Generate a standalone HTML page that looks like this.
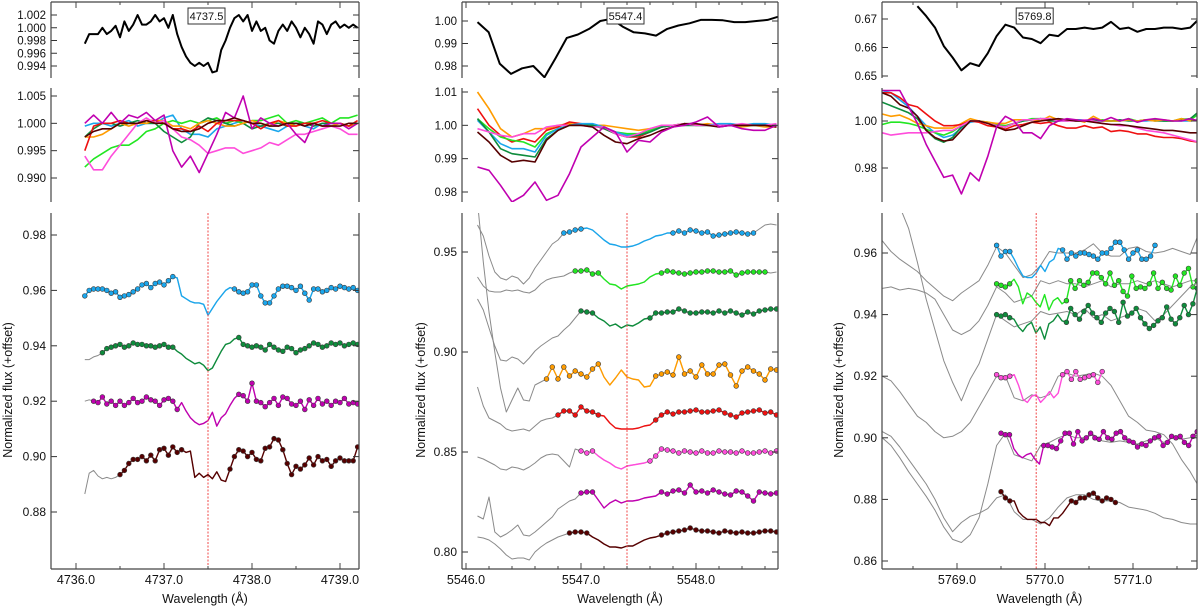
<!DOCTYPE html>
<html><head><meta charset="utf-8"><style>
html,body{margin:0;padding:0;background:#fff;}
svg{display:block;font-family:"Liberation Sans",sans-serif;}
</style></head><body>
<svg id="chart" width="1200" height="607" viewBox="0 0 1200 607" xmlns="http://www.w3.org/2000/svg"></svg>
<script>
// ---------- DATA ----------
const p1TopFlux=[0.9975,0.999,0.999,0.999,1.000,0.999,0.9995,1.0003,0.9985,1.001,0.9995,1.0005,1.002,1.0005,1.0005,1.001,1.002,1.001,1.0015,1.000,1.002,0.999,0.997,0.9955,0.9945,0.994,0.9945,0.994,0.9945,0.993,0.9932,0.9965,0.998,1.000,1.0015,1.002,1.001,1.002,0.9995,1.001,0.9995,1.000,0.998,0.9975,0.9995,1.0005,0.9995,1.001,1.000,0.9985,1.000,0.999,0.9975,1.001,1.0005,0.999,1.0005,1.001,1.000,1.0005,1.000,1.0005,1.000];
const p1MidBlue=[0.9995,1.000,1.000,0.9995,1.000,1.0005,0.9995,1.000,1.000,1.001,1.0015,0.999,0.998,0.998,0.9975,0.999,0.9995,1.000,1.0005,1.000,0.9995,0.999,0.9985,0.9995,1.000,0.9995,0.999,1.000,0.9995,1.000,0.9995,1.000];
const p1MidGreen=[0.992,0.9935,0.9945,0.9955,0.996,0.996,0.997,0.9985,0.999,1.000,1.0005,1.000,1.0005,1.000,1.0005,1.001,1.000,1.0005,1.000,1.0005,1.0005,1.001,1.0015,1.000,1.0005,1.000,1.0005,1.001,1.000,1.001,1.001,1.0015];
const p1MidDkGreen=[0.9975,0.999,1.000,1.000,0.9995,1.000,1.0005,1.000,1.000,0.9985,0.9975,0.9965,0.9975,1.000,1.001,1.0005,1.000,0.9995,1.000,0.999,0.9995,1.000,1.000,0.9995,1.000,1.000,0.9995,1.000,1.000,1.000,0.9995,1.000];
const p1MidOrange=[0.9975,0.9975,0.998,0.999,1.000,0.9995,1.000,1.000,1.0005,1.0005,0.9995,0.9995,0.999,1.000,1.0005,1.000,0.9995,0.9995,1.000,1.0005,1.000,0.9995,1.0005,1.000,0.9995,1.000,1.000,0.9995,0.9995,1.000,0.9995,1.000];
const p1MidRed=[0.995,0.9995,1.000,1.000,1.0005,1.000,1.000,1.0005,1.0005,1.000,0.999,0.999,0.9985,0.9995,0.9985,1.000,1.0005,1.0005,1.0005,1.000,0.999,1.000,1.0005,0.9995,0.9995,1.000,1.000,1.0005,1.000,1.000,0.9995,1.0005];
const p1MidPink=[0.994,0.9915,0.9915,0.994,0.996,0.998,1.000,1.001,1.000,1.0005,0.999,0.9975,0.997,0.996,0.9945,0.995,0.9955,0.9955,0.9945,0.995,0.9955,0.9965,0.996,0.997,0.998,0.998,0.9985,0.999,0.9995,0.999,0.998,0.998];
const p1MidMagenta=[1.000,1.0015,1.000,1.002,1.000,1.0015,1.001,1.002,1.0005,1.0015,0.995,0.992,0.994,0.991,0.9945,0.998,1.002,1.001,1.005,0.999,1.001,1.000,0.9995,1.000,0.998,0.9965,1.000,0.9995,1.000,1.000,0.999,1.000];
const p1MidMaroon=[0.9975,0.9985,0.999,0.999,1.000,1.000,1.000,1.0005,1.000,1.000,0.999,0.9985,0.9985,0.999,1.000,1.0005,1.0005,1.001,1.0005,1.000,1.000,0.9995,0.9995,1.000,1.000,0.9995,1.000,0.9995,0.9995,0.9995,1.000,1.000];
const p1LowBlue=[0.958,0.960,0.9605,0.9605,0.9605,0.960,0.959,0.9595,0.9575,0.958,0.9585,0.9595,0.9605,0.962,0.9625,0.961,0.9625,0.963,0.962,0.9635,0.965,0.9645,0.958,0.957,0.956,0.9555,0.9555,0.955,0.951,0.9535,0.956,0.958,0.960,0.961,0.9605,0.9595,0.959,0.9595,0.962,0.962,0.958,0.9555,0.9555,0.958,0.9605,0.9615,0.9615,0.961,0.960,0.9615,0.959,0.9565,0.9605,0.9605,0.9595,0.960,0.961,0.9605,0.9615,0.961,0.9605,0.961,0.960];
const p1LowDkGreen=[0.935,0.935,0.936,0.9365,0.9375,0.939,0.9395,0.940,0.9405,0.9395,0.940,0.941,0.9405,0.9405,0.940,0.940,0.9395,0.940,0.9405,0.9395,0.9395,0.938,0.937,0.9355,0.9345,0.9335,0.934,0.933,0.931,0.932,0.935,0.938,0.9405,0.941,0.9425,0.943,0.9405,0.940,0.9395,0.940,0.9395,0.9385,0.9405,0.9395,0.9385,0.938,0.9395,0.939,0.9375,0.9385,0.939,0.940,0.941,0.9405,0.9395,0.940,0.941,0.9405,0.941,0.940,0.9405,0.941,0.9405];
const p1LowMagenta=[0.920,0.9205,0.920,0.9195,0.9215,0.919,0.920,0.9185,0.920,0.9185,0.9195,0.921,0.9195,0.920,0.9215,0.9205,0.920,0.9185,0.9205,0.921,0.920,0.917,0.9195,0.9165,0.914,0.9125,0.9115,0.912,0.913,0.916,0.911,0.914,0.9155,0.9185,0.921,0.9225,0.922,0.920,0.9265,0.920,0.9195,0.918,0.9195,0.921,0.9185,0.9215,0.921,0.919,0.9185,0.920,0.917,0.9205,0.9185,0.921,0.919,0.920,0.9185,0.920,0.9195,0.921,0.919,0.9195,0.919];
const p1LowMaroon=[0.8865,0.894,0.895,0.893,0.892,0.8925,0.892,0.8925,0.8935,0.895,0.8975,0.899,0.899,0.900,0.8985,0.9005,0.8985,0.9025,0.903,0.9005,0.9035,0.9015,0.9025,0.9015,0.902,0.8925,0.894,0.8925,0.8935,0.892,0.8945,0.8915,0.891,0.8955,0.900,0.9025,0.902,0.900,0.9015,0.899,0.8985,0.903,0.9035,0.9065,0.906,0.9025,0.8975,0.8935,0.8965,0.8955,0.897,0.8995,0.897,0.900,0.8985,0.899,0.8965,0.8985,0.8995,0.8985,0.8985,0.8985,0.9035];

const p2TopFlux=[0.9995,0.995,0.981,0.9765,0.979,0.980,0.975,0.9835,0.9925,0.994,0.9965,1.000,1.001,0.9975,0.995,0.9945,0.9935,0.9965,0.998,0.999,1.0005,1.0005,1.0003,0.9995,0.9995,1.000,1.0005,1.002];
const p2MidOrange=[1.010,1.005,0.999,0.9965,0.9975,0.999,0.999,1.000,1.0005,1.000,1.000,1.000,0.9995,0.999,0.9985,0.999,0.9995,1.000,1.000,1.000,1.0005,1.000,1.000,0.9995,1.000,0.9995,0.9995];
const p2MidRed=[1.005,1.000,0.997,0.995,0.996,0.995,0.9985,0.9995,1.001,1.0005,1.000,0.999,0.9975,0.9965,0.9965,0.998,0.9995,1.000,1.0005,1.000,1.000,1.000,1.000,1.000,1.000,1.000,0.9995];
const p2MidGreen=[1.002,0.999,0.9965,0.9955,0.995,0.9935,0.9975,0.999,1.000,1.000,1.000,0.9995,0.998,0.9975,0.9975,0.9985,0.9995,1.000,1.0005,1.000,1.000,1.000,1.000,1.000,1.000,1.000,1.000];
const p2MidBlue=[1.0015,0.998,0.9945,0.993,0.993,0.992,0.997,0.999,1.000,1.0005,1.0005,0.9995,0.998,0.997,0.997,0.998,0.9995,1.000,1.000,1.000,1.000,1.0005,1.0005,1.000,1.0005,1.0005,1.000];
const p2MidDkGreen=[1.002,0.998,0.993,0.9915,0.991,0.9905,0.996,0.9985,1.000,1.000,1.000,0.999,0.9975,0.9965,0.997,0.998,0.9995,1.000,1.000,1.000,1.000,1.000,1.000,1.000,1.000,1.000,1.000];
const p2MidPink=[0.999,0.998,0.997,0.9965,0.9975,0.9975,0.9995,1.000,1.000,1.000,0.9995,0.9995,0.9975,0.9965,0.9975,0.999,1.000,1.000,1.0005,1.000,1.000,1.000,1.000,1.0005,1.000,1.000,1.0005];
const p2MidMaroon=[0.998,0.995,0.991,0.989,0.9895,0.989,0.9955,0.9985,1.000,1.000,0.9995,0.997,0.995,0.9945,0.996,0.997,0.9985,0.9995,1.0005,1.0005,1.000,0.9995,1.000,1.000,1.000,1.000,0.9995];
const p2MidMagenta=[0.9875,0.9865,0.982,0.977,0.979,0.983,0.9775,0.979,0.9855,0.9935,0.9965,0.9995,0.998,0.992,0.9955,0.995,0.998,0.9995,1.000,1.001,1.0025,0.9995,1.000,0.999,0.9985,0.9985,1.000];
const p2LowBlue=[0.9635,0.958,0.948,0.940,0.937,0.936,0.938,0.937,0.934,0.937,0.942,0.946,0.950,0.954,0.956,0.9595,0.960,0.961,0.9615,0.962,0.961,0.9585,0.956,0.954,0.9535,0.9525,0.9525,0.953,0.954,0.9555,0.9565,0.958,0.9585,0.9595,0.9595,0.9605,0.9595,0.961,0.9605,0.9595,0.960,0.958,0.9585,0.959,0.9595,0.960,0.9595,0.959,0.9595,0.9615,0.9635,0.964,0.9635];
const p2LowGreen=[0.9375,0.933,0.9305,0.930,0.930,0.931,0.9305,0.931,0.930,0.9295,0.931,0.934,0.936,0.937,0.9375,0.938,0.9395,0.9405,0.9405,0.941,0.939,0.9395,0.9365,0.934,0.9335,0.9315,0.933,0.9335,0.934,0.935,0.9375,0.939,0.9395,0.9405,0.940,0.9395,0.939,0.9395,0.940,0.940,0.9405,0.9405,0.940,0.940,0.9405,0.9385,0.9395,0.940,0.940,0.940,0.940,0.9395,0.940];
const p2LowDkGreen=[0.9265,0.921,0.912,0.903,0.896,0.8955,0.8975,0.8965,0.894,0.897,0.9005,0.903,0.905,0.907,0.908,0.911,0.9135,0.917,0.9205,0.920,0.9195,0.917,0.9155,0.913,0.914,0.912,0.9135,0.913,0.9145,0.9165,0.917,0.9195,0.9195,0.920,0.920,0.9215,0.9205,0.9195,0.9195,0.920,0.920,0.9195,0.9205,0.9195,0.9205,0.9195,0.9185,0.920,0.919,0.9205,0.921,0.9215,0.9215];
const p2LowOrange=[0.975,0.945,0.920,0.900,0.882,0.870,0.876,0.882,0.876,0.8755,0.8835,0.885,0.8865,0.8925,0.8865,0.8925,0.888,0.8905,0.889,0.8875,0.8915,0.894,0.8875,0.8835,0.887,0.891,0.8875,0.8865,0.886,0.8825,0.883,0.888,0.889,0.890,0.8885,0.8975,0.889,0.8905,0.8875,0.8935,0.889,0.889,0.8935,0.894,0.8885,0.883,0.8905,0.8925,0.8905,0.889,0.886,0.8915,0.891];
const p2LowRed=[0.8825,0.873,0.867,0.8655,0.864,0.8615,0.8605,0.861,0.8615,0.8605,0.863,0.8655,0.8665,0.867,0.8685,0.8705,0.8705,0.8685,0.8725,0.8705,0.870,0.8685,0.868,0.8645,0.862,0.8615,0.8615,0.8615,0.862,0.863,0.8635,0.866,0.8685,0.870,0.869,0.870,0.870,0.8705,0.871,0.870,0.870,0.8705,0.871,0.8695,0.8685,0.8675,0.8695,0.870,0.8705,0.871,0.8695,0.870,0.8685];
const p2LowPink=[0.8475,0.8465,0.845,0.8435,0.8415,0.841,0.8425,0.842,0.841,0.8425,0.8445,0.847,0.8485,0.849,0.8485,0.8455,0.8425,0.8515,0.8505,0.8495,0.8505,0.848,0.846,0.8445,0.8425,0.8415,0.843,0.8435,0.844,0.8445,0.8455,0.848,0.8515,0.851,0.8505,0.8495,0.8505,0.850,0.8495,0.8505,0.8495,0.8495,0.8505,0.850,0.850,0.8495,0.8505,0.8495,0.8495,0.850,0.8505,0.8495,0.8505];
const p2LowMagenta=[0.818,0.8165,0.8275,0.810,0.8075,0.809,0.811,0.8135,0.8085,0.808,0.810,0.8125,0.815,0.8175,0.8215,0.8235,0.8255,0.8265,0.8295,0.830,0.830,0.826,0.822,0.8245,0.826,0.8245,0.8255,0.8255,0.826,0.827,0.8275,0.828,0.830,0.829,0.8305,0.831,0.8295,0.8335,0.830,0.8305,0.8295,0.831,0.830,0.829,0.8285,0.8305,0.830,0.828,0.8255,0.830,0.8295,0.829,0.8295];
const p2LowMaroon=[0.8075,0.807,0.806,0.804,0.8015,0.7985,0.7965,0.797,0.797,0.796,0.800,0.8025,0.8045,0.806,0.8075,0.8085,0.8095,0.810,0.810,0.8095,0.8075,0.806,0.804,0.8025,0.8025,0.802,0.803,0.803,0.8045,0.806,0.807,0.8075,0.8085,0.8095,0.810,0.8105,0.811,0.812,0.811,0.8105,0.8105,0.810,0.8095,0.8105,0.810,0.8095,0.810,0.8095,0.8095,0.810,0.8105,0.8105,0.810];

const p3TopFlux=[0.6745,0.671,0.667,0.6605,0.6565,0.652,0.6545,0.6535,0.658,0.664,0.668,0.667,0.6635,0.663,0.6615,0.6645,0.664,0.6665,0.6665,0.667,0.6665,0.667,0.669,0.6665,0.667,0.6655,0.6665,0.6665,0.667,0.667,0.6665,0.667,0.670];
const p3MidBlue=[1.013,1.012,1.009,1.006,1.002,0.998,0.995,0.993,0.994,0.997,0.9995,1.000,0.999,0.998,0.9975,0.999,1.000,1.0005,1.001,1.001,1.000,1.000,1.0005,1.0005,1.000,1.000,1.000,1.000,1.0005,1.000,1.000,1.0005,1.000,1.000,1.000,1.000,1.0005];
const p3MidGreen=[0.9985,0.9995,0.9995,0.999,0.998,0.9965,0.995,0.994,0.9955,0.998,1.000,1.000,0.9995,0.9985,0.998,0.999,1.000,1.001,1.001,1.0005,1.000,1.0005,1.0005,1.000,1.000,1.0005,1.000,1.000,1.001,1.000,1.0005,1.0005,1.000,1.000,1.001,1.0005,1.003];
const p3MidDkGreen=[1.008,1.0065,1.005,1.0035,1.001,0.996,0.9925,0.991,0.993,0.9975,1.000,1.000,0.999,0.998,0.9975,0.999,1.000,1.0005,1.001,1.000,1.000,1.0005,1.000,1.000,1.0005,1.000,1.000,1.0005,1.000,1.000,1.0005,1.000,1.000,1.000,1.0005,1.001,1.004];
const p3MidOrange=[1.003,1.002,1.0025,1.001,0.999,0.998,0.997,0.997,0.997,0.999,1.001,1.000,0.9995,0.999,0.999,1.0005,1.0005,1.0005,1.000,1.002,1.0005,1.000,1.0005,0.9995,1.002,1.000,1.000,1.000,1.0005,1.000,1.0005,1.000,1.0005,1.000,1.001,1.000,1.0005];
const p3MidRed=[1.012,1.012,1.010,1.007,1.006,1.003,1.000,0.998,0.998,0.9985,1.000,0.9995,0.998,0.9975,0.9965,0.998,0.9985,0.9995,0.999,0.9995,0.998,0.997,0.997,0.998,0.997,0.9975,0.9955,0.996,0.9955,0.9945,0.9945,0.9935,0.993,0.993,0.9925,0.9915,0.991];
const p3MidPink=[0.995,0.994,0.9945,0.995,0.995,0.995,0.9955,0.996,0.996,0.998,1.000,1.000,0.999,0.998,0.9975,0.999,1.0005,1.0005,1.001,1.001,1.000,1.000,1.000,1.0005,1.000,0.999,0.9985,0.998,0.998,0.997,0.996,0.9955,0.995,0.994,0.993,0.992,0.991];
const p3MidMaroon=[1.012,1.0105,1.007,1.0055,1.002,0.996,0.993,0.9915,0.992,0.996,1.000,1.000,0.999,0.9975,0.996,0.9965,0.998,0.9995,1.000,1.0005,1.001,1.0005,1.000,1.000,0.9995,0.999,0.9985,0.9985,0.998,0.9975,0.997,0.9965,0.996,0.996,0.9955,0.995,0.995];
const p3MidMagenta=[1.013,1.013,1.013,1.006,0.999,0.990,0.983,0.976,0.977,0.969,0.978,0.9745,0.985,0.9975,1.002,1.000,0.995,0.995,0.9925,0.998,1.000,1.001,1.0005,1.000,1.001,1.000,1.0015,1.000,1.001,0.9995,1.0005,1.001,1.0005,1.000,1.000,1.001,1.000];
const p3GreyBlue=[0.964,0.9605,0.958,0.956,0.954,0.951,0.9485,0.946,0.9445,0.947,0.949,0.951,0.956,0.962,0.960,0.956,0.952,0.953,0.956,0.9605,0.960,0.960,0.960,0.961,0.963,0.960,0.959,0.959,0.9615,0.962,0.9605,0.960,0.9605,0.9615,0.9605,0.9595,0.9665];
const p3GreyGreen=[0.9485,0.949,0.948,0.9485,0.948,0.947,0.945,0.940,0.935,0.9335,0.935,0.938,0.943,0.949,0.947,0.944,0.945,0.946,0.951,0.950,0.951,0.950,0.950,0.949,0.950,0.951,0.949,0.950,0.950,0.951,0.950,0.951,0.950,0.949,0.950,0.951,0.951];
const p3GreyDkGreen=[0.975,0.975,0.975,0.968,0.957,0.945,0.935,0.925,0.918,0.912,0.919,0.924,0.932,0.940,0.938,0.936,0.937,0.938,0.941,0.940,0.9405,0.941,0.940,0.942,0.939,0.940,0.938,0.939,0.940,0.942,0.941,0.938,0.940,0.943,0.946,0.949,0.9505];
const p3GreyPink=[0.920,0.9185,0.915,0.911,0.907,0.905,0.902,0.900,0.9005,0.902,0.905,0.910,0.915,0.920,0.920,0.913,0.912,0.914,0.913,0.914,0.920,0.921,0.920,0.9205,0.921,0.920,0.917,0.912,0.907,0.905,0.9025,0.902,0.901,0.898,0.893,0.889,0.884];
const p3GreyMagenta=[0.900,0.8975,0.8935,0.889,0.885,0.881,0.8765,0.871,0.867,0.866,0.8685,0.874,0.885,0.8975,0.9015,0.8945,0.8935,0.8925,0.8975,0.8985,0.900,0.901,0.900,0.900,0.901,0.899,0.8985,0.899,0.8985,0.898,0.899,0.900,0.8985,0.900,0.8995,0.900,0.901];
const p3GreyMaroon=[0.902,0.9005,0.897,0.893,0.889,0.885,0.880,0.874,0.8695,0.8725,0.8745,0.8755,0.877,0.8805,0.8815,0.876,0.8735,0.8735,0.872,0.874,0.8775,0.8805,0.8815,0.8815,0.880,0.8795,0.8795,0.879,0.8775,0.877,0.8765,0.8755,0.874,0.8735,0.8725,0.872,0.872];
const p3ColBlue=[0.9625,0.959,0.9605,0.9605,0.958,0.955,0.9525,0.952,0.952,0.9535,0.956,0.954,0.957,0.958,0.9615,0.961,0.958,0.960,0.959,0.960,0.960,0.9595,0.959,0.958,0.960,0.960,0.9615,0.9635,0.9635,0.961,0.958,0.960,0.961,0.958,0.958,0.959,0.9625];
const p3ColGreen=[0.950,0.9495,0.949,0.950,0.9515,0.949,0.9435,0.947,0.946,0.944,0.9425,0.9465,0.9415,0.9445,0.9455,0.9435,0.9445,0.951,0.9485,0.951,0.9495,0.9505,0.9535,0.9535,0.952,0.950,0.9535,0.9495,0.951,0.9475,0.946,0.9525,0.9485,0.949,0.9485,0.950,0.9535,0.9485,0.9505,0.9485,0.948,0.9525,0.9495,0.9535,0.955,0.949,0.951];
const p3ColDkGreen=[0.940,0.9395,0.940,0.939,0.9385,0.936,0.9345,0.9365,0.9375,0.934,0.936,0.932,0.937,0.938,0.940,0.938,0.9375,0.942,0.940,0.9385,0.941,0.943,0.9405,0.939,0.9375,0.9405,0.942,0.941,0.9375,0.944,0.9395,0.9405,0.942,0.939,0.937,0.9355,0.9365,0.938,0.939,0.9425,0.9385,0.937,0.939,0.943,0.940,0.9435,0.9485];
const p3ColPink=[0.9205,0.9195,0.9195,0.920,0.9205,0.917,0.9125,0.9115,0.9135,0.914,0.9115,0.913,0.915,0.913,0.9145,0.9205,0.9215,0.919,0.9215,0.919,0.9195,0.920,0.9205,0.918,0.9215];
const p3ColMagenta=[0.9015,0.901,0.901,0.8965,0.8945,0.8935,0.8945,0.895,0.893,0.8915,0.8975,0.8975,0.897,0.8965,0.899,0.9015,0.9015,0.898,0.902,0.899,0.900,0.9015,0.900,0.8995,0.902,0.900,0.8995,0.9015,0.902,0.900,0.899,0.8985,0.897,0.898,0.8975,0.899,0.900,0.9005,0.8975,0.8985,0.9005,0.900,0.9005,0.8985,0.8975,0.9005,0.902];
const p3ColMaroon=[0.8825,0.8805,0.8795,0.8795,0.876,0.8745,0.8735,0.8735,0.8735,0.8725,0.8725,0.8715,0.874,0.874,0.8755,0.8775,0.8795,0.879,0.8805,0.8805,0.8815,0.882,0.8805,0.8795,0.8805,0.880,0.879];

const p1XTicks=[4736,4737,4738,4739];
const p2XTicks=[5546,5547,5548];
const p3XTicks=[5769,5770,5771];

// ---------- DRAWING ----------
const NS='http://www.w3.org/2000/svg';
const svg=document.getElementById('chart');
function mk(tag,parent,attrs){const e=document.createElementNS(NS,tag);for(const k in attrs)e.setAttribute(k,attrs[k]);parent.appendChild(e);return e;}
const C={blue:'#1aa6ec',green:'#22e622',dkgreen:'#0e8c3c',orange:'#ff9c00',red:'#ee1010',pink:'#ff4ddb',magenta:'#c000b0',maroon:'#560000',grey:'#8a8a8a'};
let clipId=0;
function grid(a,b,n){const r=[];for(let i=0;i<n;i++)r.push(a+i*(b-a)/(n-1));return r;}

function sub(panel,box,yOf,name){
  const g=mk('g',svg,{});
  
  
  const id='c'+(clipId++);
  const cp=mk('clipPath',g,{id:id});
  mk('rect',cp,{x:panel.x0,y:box[0],width:panel.x1-panel.x0,height:box[1]-box[0]});
  const inner=mk('g',g,{'clip-path':'url(#'+id+')'});
  return {g:g,inner:inner,yOf:yOf,box:box};
}
function line(parent,xs,ys,color,w,name){
  const p=mk('polyline',parent,{points:xs.map((x,i)=>x.toFixed(1)+','+ys[i].toFixed(1)).join(' '),fill:'none',stroke:color,'stroke-width':w,'stroke-linejoin':'round'});
  
  
  return p;
}
function yTicks(panel,s,vals,labels,fs){
  vals.forEach((v,i)=>{
    const y=s.yOf(v);
    mk('line',s.g,{x1:panel.x0,x2:panel.x0+6,y1:y,y2:y,stroke:'#333','stroke-width':1});
    mk('line',s.g,{x1:panel.x1,x2:panel.x1-6,y1:y,y2:y,stroke:'#333','stroke-width':1});
    const t=mk('text',s.g,{x:panel.x0-5,y:y+4,'text-anchor':'end','font-size':fs||12,fill:'#111'});
    t.textContent=labels[i];
    
    
  });
  mk('line',s.g,{x1:panel.x0,x2:panel.x0,y1:s.box[0],y2:s.box[1],stroke:'#444','stroke-width':1.2});
  mk('line',s.g,{x1:panel.x1,x2:panel.x1,y1:s.box[0],y2:s.box[1],stroke:'#444','stroke-width':1.2});
}
function lowSeries(panel,s,cfg,name){
  const g=mk('g',s.inner,{});
  
  
  const gv=cfg.grey||cfg.vals, gr=cfg.greyRange||cfg.range;
  const gx=grid(gr[0],gr[1],gv.length);
  line(g,gx.map(panel.xOf),gv.map(s.yOf),C.grey,1,name+'-model-line');
  const cx=grid(cfg.range[0],cfg.range[1],cfg.vals.length);
  const pts=[];
  cx.forEach((x,i)=>{if(x>=cfg.dot[0]-1e-6&&x<=cfg.dot[1]+1e-6)pts.push([x,cfg.vals[i]]);});
  const inLine=x=>x>cfg.line[0]&&x<cfg.line[1];
  const lx=pts.map(p=>panel.xOf(p[0])), ly=pts.map(p=>s.yOf(p[1]));
  line(g,lx,ly,C[cfg.color],1.4,name+'-line');
  pts.forEach((p,i)=>{ if(!inLine(p[0])){
    const c=mk('circle',g,{cx:lx[i].toFixed(1),cy:ly[i].toFixed(1),r:2.4,fill:C[cfg.color],stroke:'#3a3a3a','stroke-width':0.6});
    
    
  }});
}
function xAxis(panel,ticks,minorStep){
  const y=569;
  mk('line',svg,{x1:panel.x0,x2:panel.x1,y1:y,y2:y,stroke:'#444','stroke-width':1.2});
  for(let v=Math.ceil(panel.wl/minorStep)*minorStep;v<=panel.wr;v+=minorStep){
    const x=panel.xOf(v);
    mk('line',svg,{x1:x,x2:x,y1:y,y2:y-3,stroke:'#444','stroke-width':1});
    mk('line',svg,{x1:x,x2:x,y1:2,y2:5,stroke:'#444','stroke-width':1});
  }
  ticks.forEach(v=>{
    const x=panel.xOf(v);
    mk('line',svg,{x1:x,x2:x,y1:y,y2:y-6,stroke:'#444','stroke-width':1});
    mk('line',svg,{x1:x,x2:x,y1:2,y2:8,stroke:'#444','stroke-width':1});
    const t=mk('text',svg,{x:x,y:584,'text-anchor':'middle','font-size':12.5,fill:'#111'});
    t.textContent=v.toFixed(1);
    
    
  });
  mk('line',svg,{x1:panel.x0,x2:panel.x1,y1:2,y2:2,stroke:'#444','stroke-width':1.2});
  const t=mk('text',svg,{x:(panel.x0+panel.x1)/2,y:603,'text-anchor':'middle','font-size':12.5,fill:'#111'});
  t.textContent='Wavelength (Å)';
  
  
  const yl=mk('text',svg,{x:0,y:0,'text-anchor':'middle','font-size':12.5,fill:'#111',transform:'translate('+panel.ylx+',390) rotate(-90)'});
  yl.textContent='Normalized flux (+offset)';
  
  
}
function label(panel,txt){
  const cx=panel.xOf(panel.lineAt)-2;
  const r=mk('rect',svg,{x:cx-18,y:8,width:37,height:16,fill:'#fff',stroke:'#333','stroke-width':1});
  
  
  const t=mk('text',svg,{x:cx+0.5,y:20,'text-anchor':'middle','font-size':11,fill:'#111'});
  t.textContent=txt;
  
  
}
function redLine(panel,s){
  const x=panel.xOf(panel.lineAt);
  const l=mk('line',s.g,{x1:x,x2:x,y1:213,y2:569,stroke:'#f04848','stroke-width':1,'stroke-dasharray':'2,1.5'});
  
  
}
function drawPanel(P){
  const top=sub(P,[2,78],v=>P.top.y0+(P.top.v0-v)*P.top.k,P.id+'-top-panel');
  line(top.inner,grid(P.top.range[0],P.top.range[1],P.top.vals.length).map(P.xOf),P.top.vals.map(top.yOf),'#000',2,P.id+'-mean-spectrum');
  yTicks(P,top,P.top.ticks,P.top.labels,11.5);
  const mid=sub(P,[88,202],v=>P.mid.y0+(P.mid.v0-v)*P.mid.k,P.id+'-residual-panel');
  P.mid.series.forEach(sr=>line(mid.inner,grid(P.mid.range[0],P.mid.range[1],sr[1].length).map(P.xOf),sr[1].map(mid.yOf),C[sr[0]],1.6,P.id+'-residual-'+sr[0]));
  yTicks(P,mid,P.mid.ticks,P.mid.labels,11.5);
  const low=sub(P,[213,569],v=>P.low.y0+(P.low.v0-v)*P.low.k,P.id+'-spectra-panel');
  redLine(P,low);
  P.low.series.forEach(sr=>lowSeries(P,low,sr,P.id+'-spectrum-'+sr.color));
  yTicks(P,low,P.low.ticks,P.low.labels,12);
  xAxis(P,P.xticks,P.minor);
  label(P,P.lab);
}

const P1={id:'p1',x0:51,x1:359,wl:4735.72,wr:4739.22,xOf:l=>76+(l-4736)*88,ylx:12,lineAt:4737.5,lab:'4737.5',xticks:p1XTicks,minor:0.5,
 top:{vals:p1TopFlux,range:[4736.1,4739.2],y0:15,v0:1.002,k:6375,ticks:[1.002,1.000,0.998,0.996,0.994],labels:['1.002','1.000','0.998','0.996','0.994']},
 mid:{range:[4736.1,4739.2],y0:96,v0:1.005,k:5467,ticks:[1.005,1.000,0.995,0.990],labels:['1.005','1.000','0.995','0.990'],
  series:[['blue',p1MidBlue],['green',p1MidGreen],['dkgreen',p1MidDkGreen],['orange',p1MidOrange],['red',p1MidRed],['pink',p1MidPink],['magenta',p1MidMagenta],['maroon',p1MidMaroon]]},
 low:{y0:235,v0:0.98,k:2770,ticks:[0.98,0.96,0.94,0.92,0.90,0.88],labels:['0.98','0.96','0.94','0.92','0.90','0.88'],
  series:[
   {color:'blue',vals:p1LowBlue,range:[4736.1,4739.2],dot:[4736.1,4739.2],line:[4737.12,4737.78]},
   {color:'dkgreen',vals:p1LowDkGreen,range:[4736.1,4739.2],dot:[4736.3,4739.2],line:[4737.12,4737.83]},
   {color:'magenta',vals:p1LowMagenta,range:[4736.1,4739.2],dot:[4736.2,4739.2],line:[4737.17,4737.83]},
   {color:'maroon',vals:p1LowMaroon,range:[4736.1,4739.2],dot:[4736.5,4739.2],line:[4737.22,4737.75]}]}};
const R2=[5546.1,5548.7];
const P2={id:'p2',x0:462,x1:778,wl:5545.97,wr:5548.71,xOf:l=>466+(l-5546)*115,ylx:425,lineAt:5547.4,lab:'5547.4',xticks:p2XTicks,minor:0.2,
 top:{vals:p2TopFlux,range:[5546.1,5548.72],y0:21,v0:1.00,k:2250,ticks:[1.00,0.99,0.98],labels:['1.00','0.99','0.98']},
 mid:{range:R2,y0:92,v0:1.01,k:3333,ticks:[1.01,1.00,0.99,0.98],labels:['1.01','1.00','0.99','0.98'],
  series:[['orange',p2MidOrange],['red',p2MidRed],['green',p2MidGreen],['blue',p2MidBlue],['dkgreen',p2MidDkGreen],['pink',p2MidPink],['maroon',p2MidMaroon],['magenta',p2MidMagenta]]},
 low:{y0:252,v0:0.95,k:2000,ticks:[0.95,0.90,0.85,0.80],labels:['0.95','0.90','0.85','0.80'],
  series:[
   {color:'blue',vals:p2LowBlue,range:R2,dot:[5546.85,5548.5],line:[5547.02,5547.77]},
   {color:'green',vals:p2LowGreen,range:R2,dot:[5546.95,5548.6],line:[5547.17,5547.68]},
   {color:'dkgreen',vals:p2LowDkGreen,range:R2,dot:[5547.0,5548.7],line:[5547.12,5547.58]},
   {color:'orange',vals:p2LowOrange,range:R2,dot:[5546.7,5548.7],line:[5547.17,5547.63]},
   {color:'red',vals:p2LowRed,range:R2,dot:[5546.8,5548.7],line:[5547.17,5547.63]},
   {color:'pink',vals:p2LowPink,range:R2,dot:[5547.0,5548.7],line:[5547.12,5547.58]},
   {color:'magenta',vals:p2LowMagenta,range:R2,dot:[5547.0,5548.7],line:[5547.12,5547.68]},
   {color:'maroon',vals:p2LowMaroon,range:R2,dot:[5546.9,5548.7],line:[5547.07,5547.68]}]}};
const G3=[5768.15,5771.75];
const P3={id:'p3',x0:882,x1:1197,wl:5768.15,wr:5771.73,xOf:l=>957+(l-5769)*88,ylx:843,lineAt:5769.9,lab:'5769.8',xticks:p3XTicks,minor:0.5,
 top:{vals:p3TopFlux,range:[5768.55,5771.75],y0:19,v0:0.67,k:2850,ticks:[0.67,0.66,0.65],labels:['0.67','0.66','0.65']},
 mid:{range:G3,y0:121,v0:1.00,k:2350,ticks:[1.00,0.98],labels:['1.00','0.98'],
  series:[['blue',p3MidBlue],['green',p3MidGreen],['dkgreen',p3MidDkGreen],['orange',p3MidOrange],['red',p3MidRed],['pink',p3MidPink],['maroon',p3MidMaroon],['magenta',p3MidMagenta]]},
 low:{y0:253,v0:0.96,k:3080,ticks:[0.96,0.94,0.92,0.90,0.88,0.86],labels:['0.96','0.94','0.92','0.90','0.88','0.86'],
  series:[
   {color:'blue',grey:p3GreyBlue,greyRange:G3,vals:p3ColBlue,range:[5769.45,5771.25],dot:[5769.45,5771.25],line:[5769.62,5770.18]},
   {color:'green',grey:p3GreyGreen,greyRange:G3,vals:p3ColGreen,range:[5769.45,5771.73],dot:[5769.45,5771.73],line:[5769.64,5770.22]},
   {color:'dkgreen',grey:p3GreyDkGreen,greyRange:G3,vals:p3ColDkGreen,range:[5769.45,5771.73],dot:[5769.45,5771.73],line:[5769.62,5770.22]},
   {color:'pink',grey:p3GreyPink,greyRange:G3,vals:p3ColPink,range:[5769.45,5770.65],dot:[5769.45,5770.65],line:[5769.62,5770.17]},
   {color:'magenta',grey:p3GreyMagenta,greyRange:G3,vals:p3ColMagenta,range:[5769.5,5771.73],dot:[5769.5,5771.73],line:[5769.62,5769.98]},
   {color:'maroon',grey:p3GreyMaroon,greyRange:G3,vals:p3ColMaroon,range:[5769.5,5770.8],dot:[5769.5,5770.8],line:[5769.62,5770.27]}]}};
[P1,P2,P3].forEach(drawPanel);
</script>
</body></html>
